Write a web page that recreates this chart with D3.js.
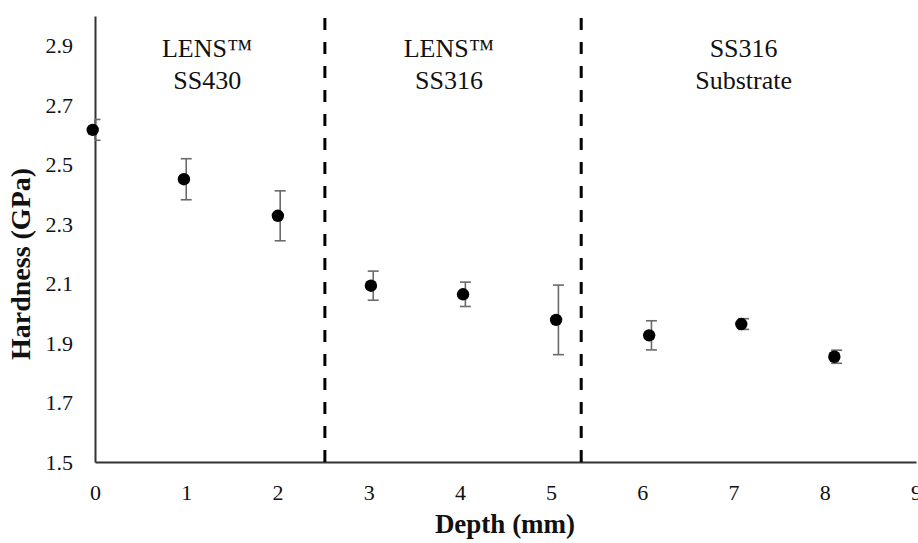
<!DOCTYPE html>
<html>
<head>
<meta charset="utf-8">
<script src="https://cdn.jsdelivr.net/npm/d3@7"></script>
<style>
  body { margin: 0; background: #fff; }
  svg, svg text { font-family: "Liberation Serif", "Times New Roman", "DejaVu Serif", serif; }
</style>
</head>
<body>
<div id="chart"></div>
<script>
// data
const depth = [0, 1.0, 2.03, 3.05, 4.06, 5.08, 6.1, 7.11, 8.13];
const hardness = [2.617, 2.451, 2.328, 2.093, 2.064, 1.978, 1.926, 1.964, 1.854];
const hardnessErr = [0.035, 0.069, 0.084, 0.049, 0.041, 0.117, 0.049, 0.018, 0.022];
const xTicks = [0, 1, 2, 3, 4, 5, 6, 7, 8, 9];
const yTicks = [1.5, 1.7, 1.9, 2.1, 2.3, 2.5, 2.7, 2.9];
const boundaries = [2.52, 5.33];
const regionLabels = [["LENS™", "SS430"], ["LENS™", "SS316"], ["SS316", "Substrate"]];
const regionCenters = [1.23, 3.88, 7.11];

const serif = "'Liberation Serif', 'Times New Roman', serif";

// dimensions
const width = 918, height = 543;
const x = d3.scaleLinear().domain([0, 9]).range([95, 916]);
const y = d3.scaleLinear().domain([1.5, 3.0]).range([462, 16]);

const svg = d3.select("#chart").append("svg").attr("width", width).attr("height", height);

// axes (no tick marks, excel style)
const xAxis = svg.append("g")
    .attr("transform", `translate(0,${y(1.5)})`)
    .call(d3.axisBottom(x).tickValues(xTicks).tickSize(0).tickPadding(22).tickFormat(d3.format("d")))
    .attr("font-family", serif).attr("font-size", 22);
xAxis.select(".domain").attr("stroke", "#333").attr("stroke-width", 2);
xAxis.selectAll("text").attr("fill", "#111");

const yAxis = svg.append("g")
    .attr("transform", `translate(${x(0)},0)`)
    .call(d3.axisLeft(y).tickValues(yTicks).tickSize(0).tickPadding(22).tickFormat(d3.format(".1f")))
    .attr("font-family", serif).attr("font-size", 22);
yAxis.select(".domain").attr("stroke", "#333").attr("stroke-width", 2);
yAxis.selectAll("text").attr("fill", "#111");

// dashed region boundaries
svg.selectAll("line.boundary")
    .data(boundaries)
    .join("line")
    .attr("class", "boundary")
    .attr("x1", d => x(d)).attr("x2", d => x(d))
    .attr("y1", y(1.5)).attr("y2", y(3.0))
    .attr("stroke", "#000")
    .attr("stroke-width", 3)
    .attr("stroke-dasharray", "12,12");

// region labels
const labels = svg.selectAll("text.region")
    .data(regionLabels)
    .join("text")
    .attr("class", "region")
    .attr("text-anchor", "middle")
    .attr("font-family", serif)
    .attr("font-size", 26)
    .attr("fill", "#111")
    .attr("x", (d, i) => x(regionCenters[i]));
labels.selectAll("tspan")
    .data(d => d)
    .join("tspan")
    .attr("x", function () { return d3.select(this.parentNode).attr("x"); })
    .attr("y", (d, i) => 57 + i * 32)
    .text(d => d);

// error bars
const pts = depth.map((d, i) => ({ x: d, y: hardness[i], e: hardnessErr[i] }));
const capW = 5.5;
const bars = svg.append("g").attr("stroke", "#6a6a6a").attr("stroke-width", 1.6);
bars.selectAll("line.err")
    .data(pts)
    .join("line")
    .attr("x1", d => x(d.x)).attr("x2", d => x(d.x))
    .attr("y1", d => y(d.y - d.e)).attr("y2", d => y(d.y + d.e));
bars.selectAll("line.capTop")
    .data(pts)
    .join("line")
    .attr("class", "capTop")
    .attr("x1", d => Math.max(x(d.x) - capW, x(0))).attr("x2", d => x(d.x) + capW)
    .attr("y1", d => y(d.y + d.e)).attr("y2", d => y(d.y + d.e));
bars.selectAll("line.capBot")
    .data(pts)
    .join("line")
    .attr("class", "capBot")
    .attr("x1", d => Math.max(x(d.x) - capW, x(0))).attr("x2", d => x(d.x) + capW)
    .attr("y1", d => y(d.y - d.e)).attr("y2", d => y(d.y - d.e));

// markers (sit a touch left of the bars, as in the picture)
svg.selectAll("circle.pt")
    .data(pts)
    .join("circle")
    .attr("class", "pt")
    .attr("cx", d => x(d.x) - 2.3)
    .attr("cy", d => y(d.y))
    .attr("r", 6.2)
    .attr("fill", "#000");

// axis titles
svg.append("text")
    .attr("x", 505).attr("y", 533)
    .attr("text-anchor", "middle")
    .attr("font-family", serif)
    .attr("font-size", 27).attr("font-weight", "bold").attr("fill", "#111")
    .text("Depth (mm)");

svg.append("text")
    .attr("transform", "translate(30,264) rotate(-90)")
    .attr("text-anchor", "middle")
    .attr("font-family", serif)
    .attr("font-size", 28).attr("font-weight", "bold").attr("fill", "#111")
    .text("Hardness (GPa)");
</script>
</body>
</html>
